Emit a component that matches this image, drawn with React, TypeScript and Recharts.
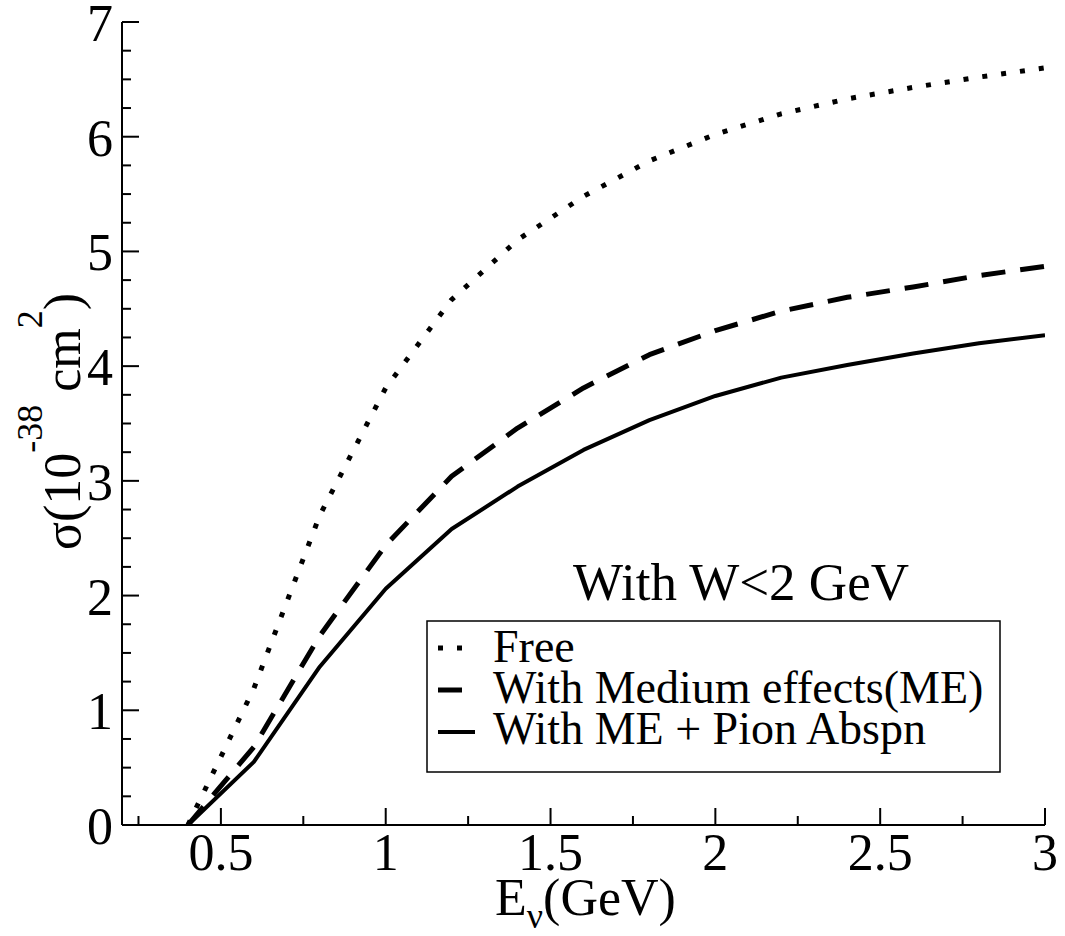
import React from 'react';
import { LineChart, Line, XAxis, YAxis, Legend } from 'recharts';

// Neutrino energy E_nu (GeV)
const energies = [0.4, 0.6, 0.8, 1.0, 1.2, 1.4, 1.6, 1.8, 2.0, 2.2, 2.4, 2.6, 2.8, 3.0];
// sigma (10^-38 cm^2)
const freeValues = [0, 1.19, 2.7, 3.81, 4.58, 5.1, 5.48, 5.79, 6.02, 6.2, 6.33, 6.43, 6.52, 6.6];
const mediumValues = [0, 0.68, 1.65, 2.44, 3.04, 3.46, 3.81, 4.1, 4.31, 4.48, 4.6, 4.69, 4.79, 4.87];
const absorptionValues = [0, 0.55, 1.38, 2.06, 2.58, 2.95, 3.27, 3.53, 3.74, 3.9, 4.01, 4.11, 4.2, 4.27];

const xTicks = [0.25, 0.5, 0.75, 1, 1.25, 1.5, 1.75, 2, 2.25, 2.5, 2.75, 3];
const yTicks = [0, 0.25, 0.5, 0.75, 1, 1.25, 1.5, 1.75, 2, 2.25, 2.5, 2.75, 3, 3.25, 3.5, 3.75, 4, 4.25, 4.5, 4.75, 5, 5.25, 5.5, 5.75, 6, 6.25, 6.5, 6.75, 7];

const seriesNames = ['Free', 'With Medium effects(ME)', 'With ME + Pion Abspn'];
const seriesKeys = ['free', 'medium', 'absorption'];
const annotationText = 'With W<2 GeV';

const data = energies.map((e, i) => ({
  e,
  free: freeValues[i],
  medium: mediumValues[i],
  absorption: absorptionValues[i],
}));

const FONT = '"Liberation Serif", "DejaVu Serif", serif';
const INK = '#000';

const seriesStyle: Record<string, { dash?: string; width: number }> = {
  free: { dash: '5 14', width: 5 },
  medium: { dash: '24 15', width: 5 },
  absorption: { width: 4 },
};

const isMult = (v: number, step: number) => Math.abs(v / step - Math.round(v / step)) < 1e-6;
const MAJOR = 17;
const MINOR = 9;

const BottomTick = (props: any) => {
  const { x, y, payload } = props;
  const v = payload.value;
  const major = isMult(v, 0.5);
  return (
    <g>
      <line x1={x} x2={x} y1={y} y2={y - (major ? MAJOR : MINOR)} stroke={INK} strokeWidth={2} />
      {major && (
        <text x={x} y={y + 45} textAnchor="middle" fontFamily={FONT} fontSize={52} fill={INK}>
          {String(v)}
        </text>
      )}
    </g>
  );
};

const TopTick = (props: any) => {
  const { x, y, payload } = props;
  const major = isMult(payload.value, 0.5);
  return <line x1={x} x2={x} y1={y} y2={y + (major ? MAJOR : MINOR)} stroke={INK} strokeWidth={2} />;
};

const LeftTick = (props: any) => {
  const { x, y, payload } = props;
  const v = payload.value;
  const major = isMult(v, 1);
  return (
    <g>
      <line x1={x} x2={x + (major ? MAJOR : MINOR)} y1={y} y2={y} stroke={INK} strokeWidth={2} />
      {major && (
        <text x={x - 9} y={y + 19} textAnchor="end" fontFamily={FONT} fontSize={52} fill={INK}>
          {String(v)}
        </text>
      )}
    </g>
  );
};

const RightTick = (props: any) => {
  const { x, y, payload } = props;
  const major = isMult(payload.value, 1);
  return <line x1={x} x2={x - (major ? MAJOR : MINOR)} y1={y} y2={y} stroke={INK} strokeWidth={2} />;
};

const XLabel = (props: any) => {
  const vb = props.viewBox || {};
  const cx = vb.x + vb.width / 2 + 2;
  const by = vb.y + 90;
  return (
    <text x={cx} y={by} textAnchor="middle" fontFamily={FONT} fontSize={52} fill={INK}>
      E
      <tspan dy={13} fontSize={36}>ν</tspan>
      <tspan dy={-13} fontSize={52}>(GeV)</tspan>
    </text>
  );
};

const YLabel = (props: any) => {
  const vb = props.viewBox || {};
  const bx = 80;
  const cy = vb.y + vb.height / 2 - 2;
  return (
    <text
      x={bx}
      y={cy}
      transform={`rotate(-90 ${bx} ${cy})`}
      textAnchor="middle"
      fontFamily={FONT}
      fontSize={52}
      fill={INK}
    >
      σ(10
      <tspan dy={-38} fontSize={36}>-38</tspan>
      <tspan dy={38} fontSize={52}> cm</tspan>
      <tspan dy={-38} fontSize={36}>2</tspan>
      <tspan dy={38} fontSize={52}>)</tspan>
    </text>
  );
};

const LegendBox = () => {
  const rowBase = [107, 148, 189];
  const rowLine = [93, 135, 177];
  return (
    <svg width={600} height={225} style={{ overflow: 'visible', display: 'block' }}>
      <text x={321} y={45} textAnchor="middle" fontFamily={FONT} fontSize={53} fill={INK}>
        {annotationText}
      </text>
      <rect x={7} y={66} width={573} height={151} fill="#fff" stroke={INK} strokeWidth={1.5} />
      {seriesKeys.map((k, i) => (
        <g key={k}>
          <line
            x1={18}
            x2={55}
            y1={rowLine[i]}
            y2={rowLine[i]}
            stroke={INK}
            strokeWidth={seriesStyle[k].width}
            strokeDasharray={seriesStyle[k].dash}
          />
          <text x={73} y={rowBase[i]} fontFamily={FONT} fontSize={46} fill={INK}>
            {seriesNames[i]}
          </text>
        </g>
      ))}
    </svg>
  );
};

export default function App() {
  return (
    <div style={{ position: 'absolute', left: 0, top: 0, width: 1065, height: 936, background: '#fff' }}>
      <LineChart width={1065} height={936} data={data} margin={{ top: 22, right: 20, bottom: 0, left: 0 }}>
        <XAxis
          dataKey="e"
          type="number"
          domain={[0.2, 3]}
          ticks={xTicks}
          interval={0}
          allowDataOverflow
          height={111}
          axisLine={{ stroke: INK, strokeWidth: 2 }}
          tickLine={false}
          tickSize={0}
          tickMargin={0}
          tick={<BottomTick />}
          label={<XLabel />}
        />
        <XAxis
          xAxisId="top"
          orientation="top"
          dataKey="e"
          type="number"
          domain={[0.2, 3]}
          ticks={xTicks}
          interval={0}
          allowDataOverflow
          height={0}
          axisLine={{ stroke: INK, strokeWidth: 2 }}
          tickLine={false}
          tickSize={0}
          tickMargin={0}
          tick={<TopTick />}
        />
        <YAxis
          type="number"
          domain={[0, 7]}
          ticks={yTicks}
          interval={0}
          allowDataOverflow
          width={122}
          axisLine={{ stroke: INK, strokeWidth: 2 }}
          tickLine={false}
          tickSize={0}
          tickMargin={0}
          tick={<LeftTick />}
          label={<YLabel />}
        />
        <YAxis
          yAxisId="right"
          orientation="right"
          type="number"
          domain={[0, 7]}
          ticks={yTicks}
          interval={0}
          allowDataOverflow
          width={0}
          axisLine={{ stroke: INK, strokeWidth: 2 }}
          tickLine={false}
          tickSize={0}
          tickMargin={0}
          tick={<RightTick />}
        />
        {seriesKeys.map((k, i) => (
          <Line
            key={k}
            type="linear"
            dataKey={k}
            name={seriesNames[i]}
            stroke={INK}
            strokeWidth={seriesStyle[k].width}
            strokeDasharray={seriesStyle[k].dash}
            strokeLinecap="butt"
            strokeLinejoin="round"
            dot={false}
            activeDot={false}
            isAnimationActive={false}
          />
        ))}
        <Legend
          layout="horizontal"
          verticalAlign="middle"
          align="center"
          content={<LegendBox />}
          wrapperStyle={{ left: 420, top: 555, width: 600, height: 225 }}
        />
      </LineChart>
    </div>
  );
}
